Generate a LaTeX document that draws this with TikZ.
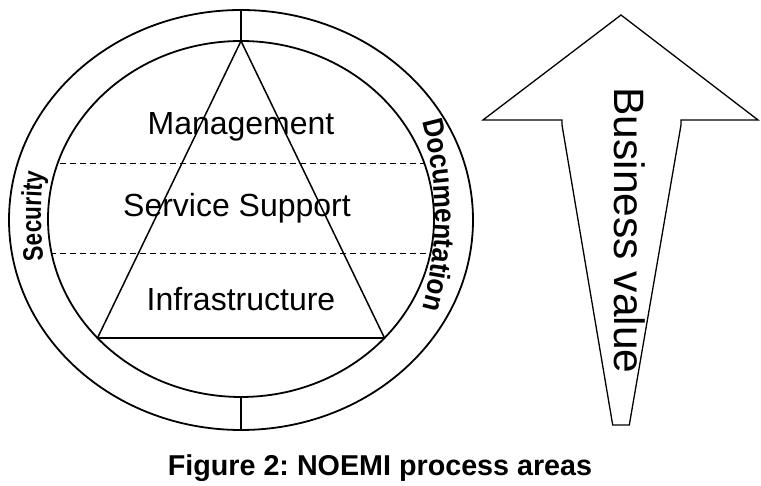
\documentclass[tikz,border=0pt]{standalone}
\usepackage{fontspec}
\setmainfont{Liberation Sans}
\newfontfamily\arcfont[FakeStretch=0.8]{Liberation Sans Bold}
\newfontfamily\docfont[FakeStretch=0.9]{Liberation Sans Bold}
\usetikzlibrary{decorations.text}
\frenchspacing
\tikzset{
  ring/.style={line width=1.8pt},
  tri/.style={line width=1.5pt, line join=miter},
  dashline/.style={line width=0.9pt, dash pattern=on 6pt off 4pt},
  bar/.style={line width=2.4pt},
  lbl/.style={font=\fontsize{32}{36}\selectfont, inner sep=0pt, anchor=base},
  arrowshape/.style={line width=1.3pt, line join=miter},
}
\begin{document}
\begin{tikzpicture}[x=1pt,y=1pt]
\useasboundingbox (0,0) rectangle (761,486);
% rings
\draw[ring] (241,266) ellipse [x radius=232, y radius=210];
\draw[ring] (241,267) ellipse [x radius=193, y radius=178];
% separator bars
\coordinate (ot) at (241,476);
\coordinate (it) at (241,445);
\coordinate (ib) at (241,89);
\coordinate (ob) at (241,56);
\draw[bar] (ot) -- (it);
\draw[bar] (ib) -- (ob);
% dashed lines clipped to inner ring
\begin{scope}
  \clip (241,267) ellipse [x radius=193, y radius=178];
  \coordinate (d1l) at (30,323); \coordinate (d1r) at (460,323);
  \coordinate (d2l) at (30,233); \coordinate (d2r) at (460,233);
  \draw[dashline] (d1l) -- (d1r);
  \draw[dashline] (d2l) -- (d2r);
\end{scope}
% triangle
\coordinate (apex) at (241,445);
\coordinate (bl) at (97.5,148);
\coordinate (br) at (384.5,148);
\draw[tri] (bl) -- (apex) -- (br);
\draw[line width=2.6pt] (bl) -- (br);
% labels
\node[lbl] (mgmt) at (241,351) {Management};
\node[lbl] (serv) at (237,269) {Service Support};
\node[lbl] (infra) at (241,175) {Infrastructure};
% curved labels
\coordinate (secc) at (441,270);
\coordinate (docc) at (85,271);
\begingroup
\arcfont\fontsize{28}{28}\selectfont
\path[decorate, decoration={text along path, text={Security}, text align=center}]
   (secc) ++(190:400) arc[start angle=190, end angle=170, radius=400];
\endgroup
\begingroup
\docfont\fontsize{29}{29}\selectfont
\path[decorate, decoration={text along path, text={Documentation}, text align=center}]
   (docc) ++(22:350) arc[start angle=22, end angle=-22, radius=350];
\endgroup
% arrow
\coordinate (ap) at (621,471);
\coordinate (hl) at (483,366);
\coordinate (hr) at (758,366);
\coordinate (sr1) at (681,366);
\coordinate (sr2) at (681,361);
\coordinate (sbr) at (629.3,61);
\coordinate (sbl) at (612.7,61);
\coordinate (sl2) at (562,361);
\coordinate (sl1) at (562,366);
\draw[arrowshape] (hl) -- (ap) -- (hr) -- (sr1) -- (sr2) -- (sbr) -- (sbl) -- (sl2) -- (sl1) -- cycle;
\node[rotate=-90, anchor=base, inner sep=0pt, font=\fontsize{42.5}{46}\selectfont] (bv) at (614,255.5) {Business value};
% caption
\node[anchor=base, inner sep=0pt, font=\bfseries\fontsize{28.7}{32}\selectfont] (cap) at (380,10) {Figure 2: NOEMI process areas};
\end{tikzpicture}
\end{document}
